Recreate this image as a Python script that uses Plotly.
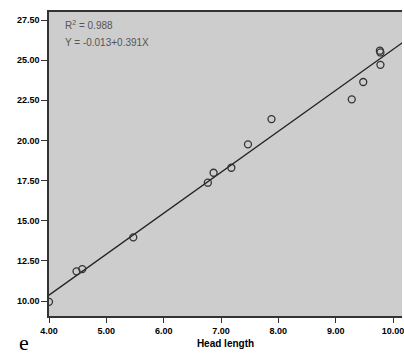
import plotly.graph_objects as go

# Data
head_length = [4.00, 4.48, 4.58, 5.47, 6.77, 6.87, 7.18, 7.47, 7.88, 9.28, 9.48, 9.78, 9.77, 9.78]
response = [9.95, 11.85, 11.99, 13.97, 17.37, 17.99, 18.30, 19.76, 21.33, 22.56, 23.64, 24.71, 25.59, 25.48]

fit_intercept = 0.165
fit_slope = 2.551
fit_x = [3.9, 10.3]
fit_y = [fit_intercept + fit_slope * x for x in fit_x]

x_ticks = [4, 5, 6, 7, 8, 9, 10]
x_ticklabels = ["4.00", "5.00", "6.00", "7.00", "8.00", "9.00", "10.00"]
y_ticks = [10, 12.5, 15, 17.5, 20, 22.5, 25, 27.5]
y_ticklabels = ["10.00", "12.50", "15.00", "17.50", "20.00", "22.50", "25.00", "27.50"]

annotation_lines = ["R<sup>2</sup> = 0.988", "Y = -0.013+0.391X"]

fig = go.Figure()
fig.add_trace(go.Scatter(x=fit_x, y=fit_y, mode="lines",
                         line=dict(color="#222222", width=1.3), hoverinfo="skip"))
fig.add_trace(go.Scatter(x=head_length, y=response, mode="markers",
                         marker=dict(symbol="circle-open", size=7, color="#333333",
                                     line=dict(width=1.3, color="#333333"))))

fig.update_layout(
    width=404, height=363,
    margin=dict(l=49, r=0, t=12, b=47),
    paper_bgcolor="white",
    plot_bgcolor="#cdcdcd",
    showlegend=False,
    font=dict(family="Liberation Sans, Arial, sans-serif", color="black"),
)
fig.update_xaxes(
    range=[4, 10.156], tickvals=x_ticks, ticktext=x_ticklabels,
    showgrid=False, zeroline=False,
    showline=True, linecolor="#333333", linewidth=1.5, mirror=True,
    ticks="outside", ticklen=5, tickwidth=1.2, tickcolor="#333333",
    ticklabeloverflow="allow",
    tickfont=dict(size=9, family="Liberation Sans, Arial, sans-serif", weight="bold"),
    title=dict(text="<b>Head length</b>", font=dict(size=10), standoff=5),
)
fig.update_yaxes(
    range=[9.07, 28.0], tickvals=y_ticks, ticktext=y_ticklabels,
    showgrid=False, zeroline=False,
    showline=True, linecolor="#333333", linewidth=1.5, mirror=False,
    ticks="outside", ticklen=6, tickwidth=1.2, tickcolor="#333333",
    tickfont=dict(size=9, family="Liberation Sans, Arial, sans-serif", weight="bold"),
)

fig.add_annotation(x=0.04, y=0.985, xref="paper", yref="paper",
                   text=annotation_lines[0], showarrow=False, xanchor="left", yanchor="top",
                   font=dict(size=10, color="#555555"))
fig.add_annotation(x=0.04, y=0.925, xref="paper", yref="paper",
                   text=annotation_lines[1], showarrow=False, xanchor="left", yanchor="top",
                   font=dict(size=10, color="#555555"))
fig.add_annotation(x=-0.07, y=-0.088, xref="paper", yref="paper",
                   text="e", showarrow=False, xanchor="center", yanchor="middle",
                   font=dict(size=22, family="Liberation Serif, Times New Roman, serif", color="black"))

fig.write_html("out.html")
